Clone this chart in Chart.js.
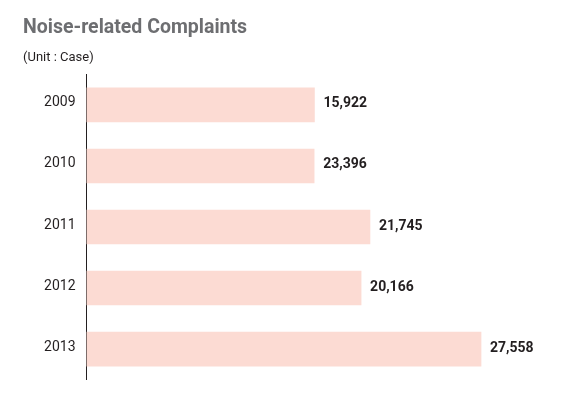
<!DOCTYPE html>
<html>
<head>
  <script src="https://cdn.jsdelivr.net/npm/chart.js@4.4.0/dist/chart.umd.min.js"></script>
  <style>
    body {
      margin: 0;
      padding: 0;
      background: white;
    }
    #chartContainer {
      width: 566px;
      height: 399px;
    }
  </style>
</head>
<body>
  <div id="chartContainer"><canvas id="chartCanvas"></canvas></div>
  <script>
    const years = ['2009', '2010', '2011', '2012', '2013'];
    // printed values next to each bar
    const valueLabels = ['15,922', '23,396', '21,745', '20,166', '27,558'];
    // bar lengths as drawn in the picture (the source bars don't follow the printed numbers)
    const barLengths = [15922, 15900, 19800, 19180, 27558];
    const xMax = 30000;

    const FONT = 'Roboto, "Liberation Sans", Arial, sans-serif';

    // writes the printed value just right of each bar end
    const valueLabelPlugin = {
      id: 'valueLabels',
      afterDatasetsDraw(chart) {
        const ctx = chart.ctx;
        const meta = chart.getDatasetMeta(0);
        ctx.save();
        ctx.font = 'bold 14px ' + FONT;
        ctx.fillStyle = '#231f20';
        ctx.textAlign = 'left';
        ctx.textBaseline = 'middle';
        meta.data.forEach((bar, i) => {
          ctx.fillText(valueLabels[i], bar.x + 9, bar.y - 1);
        });
        ctx.restore();
      }
    };

    const ctx = document.getElementById('chartCanvas').getContext('2d');
    const chart = new Chart(ctx, {
      type: 'bar',
      data: {
        labels: years,
        datasets: [{
          data: barLengths,
          backgroundColor: '#fcdbd3',
          borderWidth: 0,
          barThickness: 34
        }]
      },
      options: {
        indexAxis: 'y',
        responsive: true,
        maintainAspectRatio: false,
        animation: false,
        layout: {
          padding: { left: 23, right: 50, top: 0, bottom: 18 }
        },
        plugins: {
          legend: { display: false },
          tooltip: { enabled: false },
          title: {
            display: true,
            text: 'Noise-related Complaints',
            align: 'start',
            color: '#6d6e71',
            font: { family: FONT, size: 19.5, weight: 'bold' },
            padding: { top: 16, bottom: 0 }
          },
          subtitle: {
            display: true,
            text: '(Unit : Case)',
            align: 'start',
            color: '#231f20',
            font: { family: FONT, size: 13 },
            padding: { top: 10.3, bottom: 9.1 }
          }
        },
        scales: {
          x: {
            display: false,
            min: 0,
            max: xMax
          },
          y: {
            grid: { display: false, drawTicks: false },
            border: { display: true, color: '#231f20', width: 1 },
            afterFit(scale) { scale.width = 63.5; },
            ticks: {
              color: '#231f20',
              font: { family: FONT, size: 14 },
              padding: 11,
              labelOffset: -2
            }
          }
        }
      },
      plugins: [valueLabelPlugin]
    });
  </script>
</body>
</html>
